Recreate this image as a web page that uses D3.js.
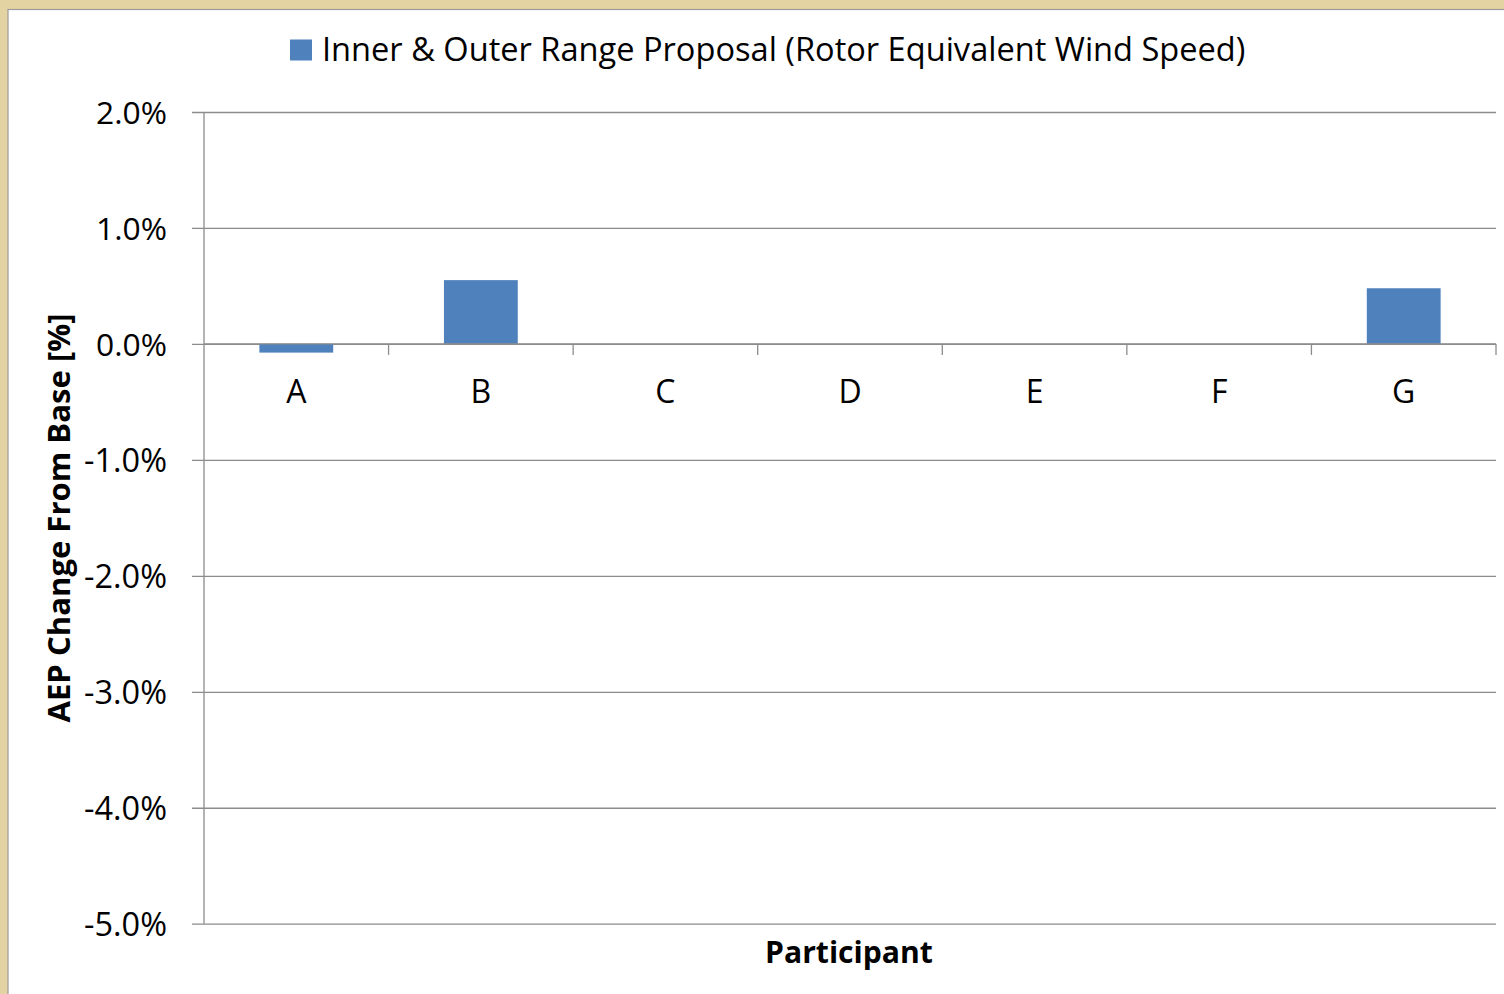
<!DOCTYPE html>
<html>
<head>
<meta charset="utf-8">
<script src="https://cdn.jsdelivr.net/npm/d3@7"></script>
<style>
  body { margin: 0; padding: 0; background: #fff; }
  svg { display: block; }
  text { font-family: "Open Sans", "DejaVu Sans", sans-serif; fill: #000; }
</style>
</head>
<body>
<div id="chart"></div>
<script>
// Data
const participants = ["A", "B", "C", "D", "E", "F", "G"];
const aepChange = [-0.075, 0.55, 0, 0, 0, 0, 0.48];
const yTicks = [2, 1, 0, -1, -2, -3, -4, -5];
const seriesName = "Inner & Outer Range Proposal (Rotor Equivalent Wind Speed)";

const width = 1504, height = 994;
const plot = {left: 204, right: 1496, top: 112, bottom: 923.7};

const svg = d3.select("#chart").append("svg")
  .attr("width", width)
  .attr("height", height);

// frame
svg.append("rect").attr("width", width).attr("height", height).attr("fill", "#E4D3A2");
svg.append("rect")
  .attr("x", 8).attr("y", 9.5)
  .attr("width", width).attr("height", height)
  .attr("fill", "#fff")
  .attr("stroke", "#9a9a9a").attr("stroke-width", 1.2);

const x = d3.scaleBand()
  .domain(participants)
  .range([plot.left, plot.right])
  .paddingInner(0.6)
  .paddingOuter(0.3);

const y = d3.scaleLinear()
  .domain([-5, 2])
  .range([plot.bottom, plot.top]);

// hyphen minus like Excel
const fmt = d3.formatLocale({decimal: ".", thousands: ",", grouping: [3], currency: ["", ""], minus: "-"}).format(".1f");

// gridlines + y tick labels
const yAxis = d3.axisLeft(y)
  .tickValues(yTicks)
  .tickSize(-(plot.right - plot.left))
  .tickPadding(37)
  .tickFormat(d => fmt(d) + "%");

const gy = svg.append("g")
  .attr("transform", `translate(${plot.left},0)`)
  .call(yAxis);
gy.select(".domain").remove();
gy.selectAll(".tick line")
  .attr("x1", -12)
  .attr("stroke", "#8c8c8c")
  .attr("stroke-width", 1.3);
gy.selectAll(".tick text")
  .style("font-size", "30px")
  .attr("dy", "0.35em");

// y axis line
svg.append("line")
  .attr("x1", plot.left).attr("x2", plot.left)
  .attr("y1", plot.top).attr("y2", plot.bottom)
  .attr("stroke", "#8c8c8c").attr("stroke-width", 1.3);

// bars
svg.append("g")
  .selectAll("rect")
  .data(participants.map((p, i) => ({p, v: aepChange[i]})).filter(d => d.v !== 0))
  .join("rect")
  .attr("x", d => x(d.p))
  .attr("width", x.bandwidth())
  .attr("y", d => y(Math.max(0, d.v)))
  .attr("height", d => Math.abs(y(d.v) - y(0)))
  .attr("fill", "#4F81BD");

// x axis at zero
const bounds = d3.range(participants.length + 1).map(i => plot.left + i * (plot.right - plot.left) / participants.length);
const gx = svg.append("g");
gx.append("line")
  .attr("x1", plot.left).attr("x2", plot.right)
  .attr("y1", y(0)).attr("y2", y(0))
  .attr("stroke", "#8c8c8c").attr("stroke-width", 1.3);
gx.selectAll("line.tk")
  .data(bounds.slice(1))
  .join("line")
  .attr("class", "tk")
  .attr("x1", d => d).attr("x2", d => d)
  .attr("y1", y(0)).attr("y2", y(0) + 11)
  .attr("stroke", "#8c8c8c").attr("stroke-width", 1.3);
gx.selectAll("text")
  .data(participants)
  .join("text")
  .attr("x", d => x(d) + x.bandwidth() / 2)
  .attr("y", 403)
  .attr("text-anchor", "middle")
  .style("font-size", "32px")
  .text(d => d);

// axis titles
const xt = svg.append("text")
  .attr("x", 849)
  .attr("y", 963)
  .attr("text-anchor", "middle")
  .style("font-size", "29px")
  .style("font-weight", "bold")
  .text("Participant");

const yt = svg.append("text")
  .attr("transform", "translate(70,518) rotate(-90)")
  .attr("text-anchor", "middle")
  .style("font-size", "29px")
  .style("font-weight", "bold")
  .text("AEP Change From Base [%]");

// legend
const lg = svg.append("g");
lg.append("rect")
  .attr("x", 290).attr("y", 39.5)
  .attr("width", 22).attr("height", 21)
  .attr("fill", "#4F81BD");
const lt = lg.append("text")
  .attr("x", 322).attr("y", 61)
  .style("font-size", "30px")
  .text(seriesName);

// fit text widths to the reference's narrower font
function fit(sel, target) {
  const w = sel.node().getComputedTextLength();
  const fs = parseFloat(sel.style("font-size"));
  sel.style("font-size", (fs * target / w) + "px");
}
fit(lt, 924);
fit(xt, 168);
fit(yt, 409);
gy.selectAll(".tick text").each(function(d) {
  fit(d3.select(this), d < 0 ? 83 : 71);
});
</script>
</body>
</html>
